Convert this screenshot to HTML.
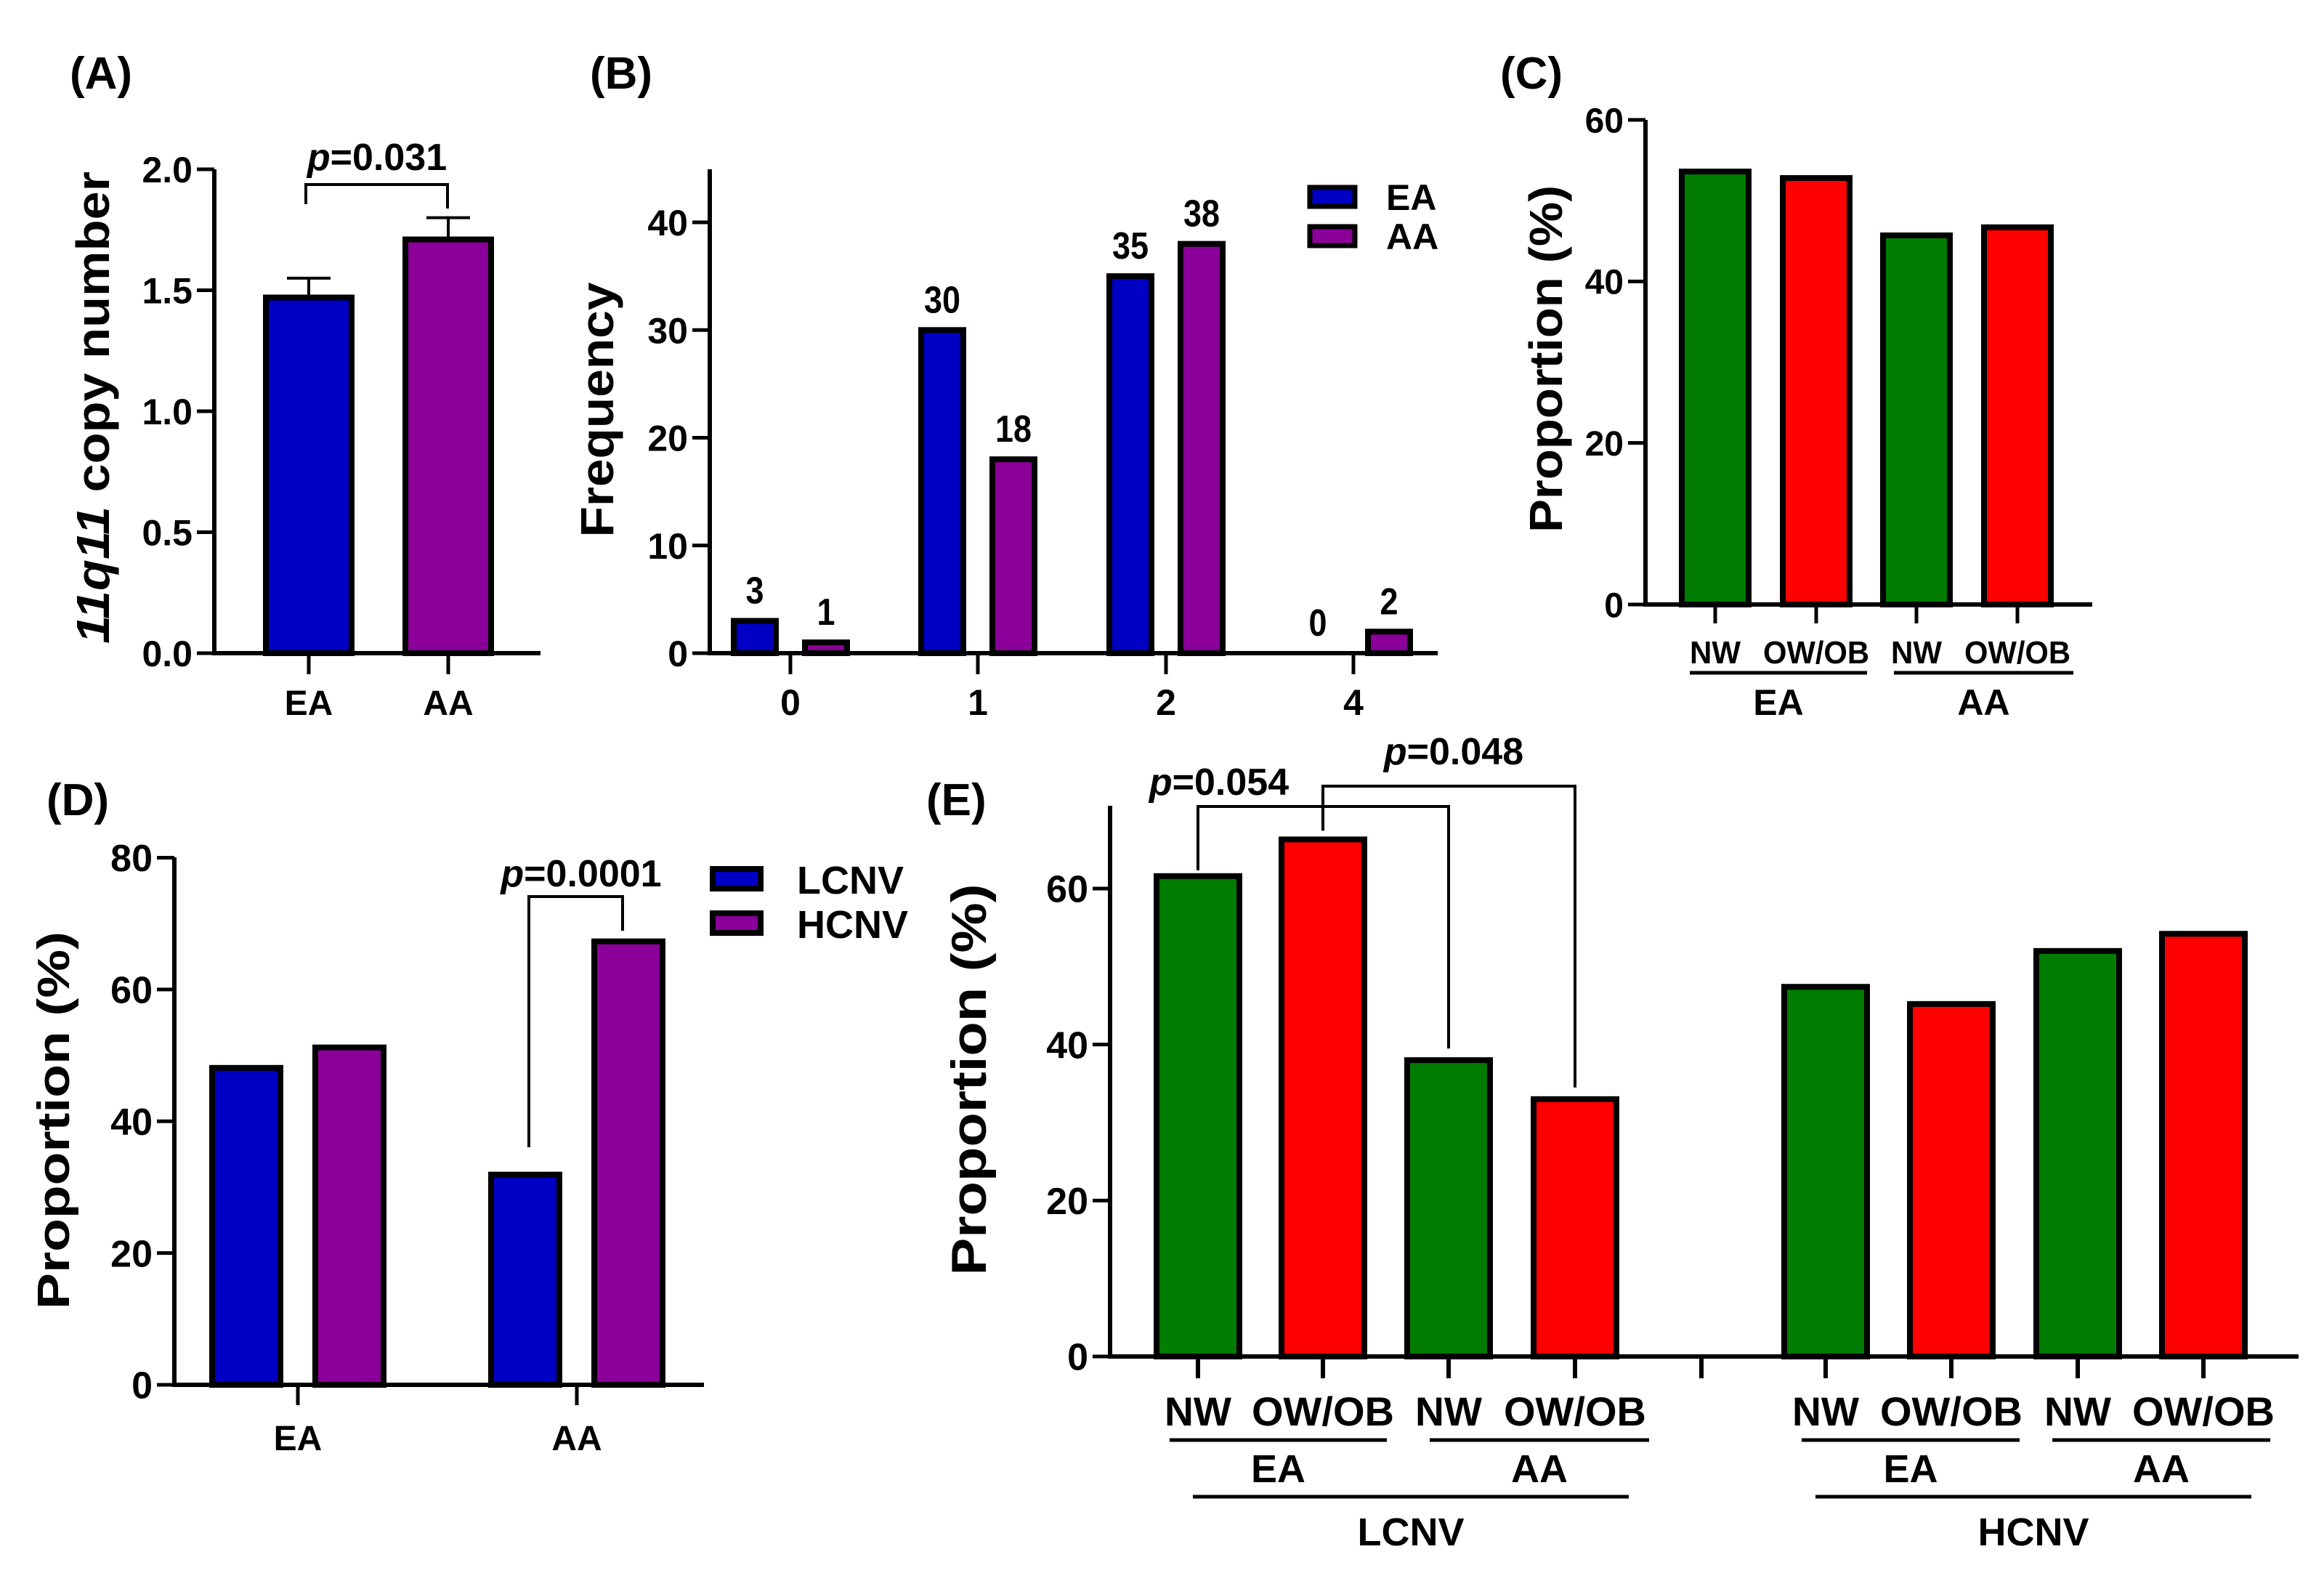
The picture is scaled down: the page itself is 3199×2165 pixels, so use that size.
<!DOCTYPE html>
<html><head><meta charset="utf-8"><style>
html,body{margin:0;padding:0;background:#fff;}
svg{display:block;font-family:"Liberation Sans",Arial,sans-serif;}
</style></head><body>
<svg id="fig" xmlns="http://www.w3.org/2000/svg" width="3199" height="2165" viewBox="0 0 3199 2165">
<rect x="0" y="0" width="3199" height="2165" fill="#fff"/>
</svg>
<script>
// ---- Panel A data ----
const aCats = ['EA', 'AA'];
const aVals = [1.47, 1.71];
const aErr = [0.08, 0.09];
const aTicks = [0, 0.5, 1.0, 1.5, 2.0];
const aTickLabels = ['0.0', '0.5', '1.0', '1.5', '2.0'];
// ---- Panel B data ----
const bCats = ['0', '1', '2', '4'];
const bEA = [3, 30, 35, 0];
const bAA = [1, 18, 38, 2];
const bTicks = [0, 10, 20, 30, 40];
// ---- Panel C data ----
const cCats = ['NW', 'OW/OB', 'NW', 'OW/OB'];
const cVals = [53.6, 52.8, 45.7, 46.7];
const cTicks = [0, 20, 40, 60];
// ---- Panel D data ----
const dCats = ['EA', 'AA'];
const dLCNV = [48.1, 31.9];
const dHCNV = [51.2, 67.3];
const dTicks = [0, 20, 40, 60, 80];
// ---- Panel E data ----
const eCats = ['NW', 'OW/OB', 'NW', 'OW/OB', 'NW', 'OW/OB', 'NW', 'OW/OB'];
const eVals = [61.6, 66.3, 38.0, 33.0, 47.4, 45.2, 52.0, 54.2];
const eTicks = [0, 20, 40, 60];

const NS = 'http://www.w3.org/2000/svg';
const svg = document.getElementById('fig');
const BLUE = '#0000c4', PURPLE = '#8a0098', GREEN = '#007c00', RED = '#ff0000';

function el(tag, attrs, parent) {
  const e = document.createElementNS(NS, tag);
  for (const k in attrs) e.setAttribute(k, attrs[k]);
  (parent || svg).appendChild(e);
  return e;
}
function txt(x, y, s, size, anchor, extra) {
  const t = el('text', Object.assign({x: x, y: y, 'font-size': size, 'font-weight': 'bold', 'text-anchor': anchor || 'middle', fill: '#000'}, extra || {}));
  t.textContent = s;
  return t;
}
function line(x1, y1, x2, y2, w) {
  return el('line', {x1: x1, y1: y1, x2: x2, y2: y2, stroke: '#000', 'stroke-width': w || 6});
}
function bar(cx, w, yTop, yBase, fill) {
  return el('rect', {x: cx - w / 2, y: yTop, width: w, height: Math.max(0, yBase - yTop), fill: fill, stroke: '#000', 'stroke-width': 8});
}
function yAxis(x, yTopPx, ys, ticks, labels, fs) {
  const ax = line(x, yTopPx, x, ys(ticks[0]) + 3, 6);
  
  
  ticks.forEach((v, i) => {
    const tk = line(x - 24, ys(v), x, ys(v), 5);
    
    
    const tl = txt(x - 30, ys(v) + fs * 0.36, labels[i], fs, 'end');
    
    
  });
}
function yTitle(x, cy, s, fs, len) {
  const t = el('text', {x: 0, y: 0, 'font-size': fs, 'font-weight': 'bold', 'text-anchor': 'middle', transform: 'translate(' + x + ',' + cy + ') rotate(-90)', textLength: len, lengthAdjust: 'spacingAndGlyphs'});
  t.textContent = s;
  return t;
}
function panelLabel(x, y, s) {
  const t = txt(x, y, s, 62, 'start');
  
  
}

// ================= Panel A =================
panelLabel(96, 122, '(A)');
const yA = v => 899 - v / 2 * 666;
yAxis(295, 233, yA, aTicks, aTickLabels, 50);
const aX = [425, 617];
const aAxis = line(292, 899, 744, 899, 6);


aCats.forEach((c, i) => {
  const b = bar(aX[i], 118, yA(aVals[i]), 899, i === 0 ? BLUE : PURPLE);
  
  
  const eb = line(aX[i], yA(aVals[i]), aX[i], yA(aVals[i] + aErr[i]), 4);
  
  
  const ec = line(aX[i] - 30, yA(aVals[i] + aErr[i]), aX[i] + 30, yA(aVals[i] + aErr[i]), 4);
  
  
  const tk = line(aX[i], 899, aX[i], 928, 5);
  
  
  const tl = txt(aX[i], 984, c, 48);
  
  
});
const aBr = el('path', {d: 'M421,281 L421,254 L616,254 L616,287', fill: 'none', stroke: '#000', 'stroke-width': 4});


const aP = txt(519, 234, '', 52);
aP.innerHTML = '<tspan font-style="italic">p</tspan>=0.031';


const aT = yTitle(150, 561, '', 64, 650);
aT.innerHTML = '<tspan font-style="italic">11q11</tspan> copy number';



// ================= Panel B =================
panelLabel(812, 122, '(B)');
const yB = v => 899 - v * 14.825;
yAxis(977, 233, yB, bTicks, bTicks.map(String), 50);
const bX = [1088, 1346, 1605, 1863];
const bAxis = line(974, 899, 1979, 899, 6);


bCats.forEach((c, i) => {
  [[bEA, BLUE, -49, 'ea'], [bAA, PURPLE, 49, 'aa']].forEach(s => {
    const v = s[0][i];
    const cx = bX[i] + s[2];
    if (v > 0) {
      const b = bar(cx, 58, yB(v), 899, s[1]);
      
      
    }
    const vl = txt(cx, yB(v) - 24, String(v), 52, 'middle', {'font-family': '"Liberation Sans Narrow","Liberation Sans",sans-serif', textLength: String(v).length * 25, lengthAdjust: 'spacingAndGlyphs'});
    
    
  });
  const tk = line(bX[i], 899, bX[i], 928, 5);
  
  
  const tl = txt(bX[i], 984, c, 50);
  
  
});
[['EA', BLUE, 255], ['AA', PURPLE, 309]].forEach(l => {
  const r = el('rect', {x: 1803, y: l[2] + 3, width: 62, height: 26, fill: l[1], stroke: '#000', 'stroke-width': 7});
  
  
  const t = txt(1908, l[2] + 34, l[0], 50, 'start');
  
  
});
const bT = yTitle(844, 564, 'Frequency', 64, 351);



// ================= Panel C =================
panelLabel(2065, 122, '(C)');
const yC = v => 832 - v / 60 * 667;
yAxis(2265, 165, yC, cTicks, cTicks.map(String), 48);
const cX = [2361, 2500, 2638, 2777];
const cAxis = line(2262, 832, 2880, 832, 6);


cCats.forEach((c, i) => {
  const b = bar(cX[i], 92, yC(cVals[i]), 832, i % 2 === 0 ? GREEN : RED);
  
  
  const tk = line(cX[i], 832, cX[i], 858, 5);
  
  
  const tl = txt(cX[i], 913, c, 44, 'middle', {textLength: c.length > 2 ? 146 : 70, lengthAdjust: 'spacingAndGlyphs'});
  
  
});
[[2326, 2570, 'EA'], [2607, 2854, 'AA']].forEach(g => {
  const u = line(g[0], 926, g[1], 926, 5);
  
  
  const t = txt((g[0] + g[1]) / 2, 984, g[2], 50);
  
  
});
const cT = yTitle(2150, 494, 'Proportion (%)', 64, 478);



// ================= Panel D =================
panelLabel(64, 1122, '(D)');
const yD = v => 1906 - v / 80 * 725.5;
yAxis(240, 1180, yD, dTicks, dTicks.map(String), 52);
const dX = [410, 794];
const dAxis = line(237, 1906, 969, 1906, 6);


dCats.forEach((c, i) => {
  const b1 = bar(dX[i] - 71, 94, yD(dLCNV[i]), 1906, BLUE);
  
  
  const b2 = bar(dX[i] + 71, 94, yD(dHCNV[i]), 1906, PURPLE);
  
  
  const tk = line(dX[i], 1906, dX[i], 1934, 5);
  
  
  const tl = txt(dX[i], 1996, c, 48);
  
  
});
const dBr = el('path', {d: 'M' + (dX[1] - 66) + ',1579 L' + (dX[1] - 66) + ',1234 L' + (dX[1] + 63) + ',1234 L' + (dX[1] + 63) + ',1281', fill: 'none', stroke: '#000', 'stroke-width': 4});


const dP = txt(800, 1220, '', 52);
dP.innerHTML = '<tspan font-style="italic">p</tspan>=0.0001';


[['LCNV', BLUE, 1192], ['HCNV', PURPLE, 1253]].forEach(l => {
  const r = el('rect', {x: 981, y: l[2] + 4, width: 66, height: 27, fill: l[1], stroke: '#000', 'stroke-width': 8});
  
  
  const t = txt(1097, l[2] + 38, l[0], 54, 'start');
  
  
});
const dT = yTitle(95, 1542, 'Proportion (%)', 62, 520);



// ================= Panel E =================
panelLabel(1275, 1122, '(E)');
const yE = v => 1867 - v / 60 * 644;
yAxis(1528, 1109, yE, eTicks, eTicks.map(String), 52);
const eX = [1649, 1821, 1994, 2168, 2513, 2686, 2860, 3033];
const eAxis = line(1525, 1867, 3164, 1867, 6);


const eBreak = line(2342, 1867, 2342, 1897, 6);


eCats.forEach((c, i) => {
  const b = bar(eX[i], 114, yE(eVals[i]), 1867, i % 2 === 0 ? GREEN : RED);
  
  
  const tk = line(eX[i], 1867, eX[i], 1897, 6);
  
  
  const tl = txt(eX[i], 1962, c, 56, 'middle', {textLength: c.length > 2 ? 196 : 92, lengthAdjust: 'spacingAndGlyphs'});
  
  
});
[[1610, 1909, 'EA'], [1968, 2270, 'AA'], [2480, 2780, 'EA'], [2825, 3125, 'AA']].forEach(g => {
  const u = line(g[0], 1982, g[1], 1982, 5);
  
  
  const t = txt((g[0] + g[1]) / 2, 2040, g[2], 54);
  
  
});
[[1642, 2242, 'LCNV'], [2499, 3099, 'HCNV']].forEach(g => {
  const u = line(g[0], 2060, g[1], 2060, 5);
  
  
  const t = txt((g[0] + g[1]) / 2, 2127, g[2], 54);
  
  
});
const eBr1 = el('path', {d: 'M' + eX[0] + ',' + (yE(eVals[0]) - 8) + ' L' + eX[0] + ',1110 L' + eX[2] + ',1110 L' + eX[2] + ',' + (yE(eVals[2]) - 16), fill: 'none', stroke: '#000', 'stroke-width': 4});


const eBr2 = el('path', {d: 'M' + eX[1] + ',' + (yE(eVals[1]) - 12) + ' L' + eX[1] + ',1082 L' + eX[3] + ',1082 L' + eX[3] + ',' + (yE(eVals[3]) - 16), fill: 'none', stroke: '#000', 'stroke-width': 4});


const eP1 = txt(1678, 1094, '', 52);
eP1.innerHTML = '<tspan font-style="italic">p</tspan>=0.054';


const eP2 = txt(2001, 1052, '', 52);
eP2.innerHTML = '<tspan font-style="italic">p</tspan>=0.048';


const eT = yTitle(1357, 1486, 'Proportion (%)', 68, 539);


</script>
</body></html>
